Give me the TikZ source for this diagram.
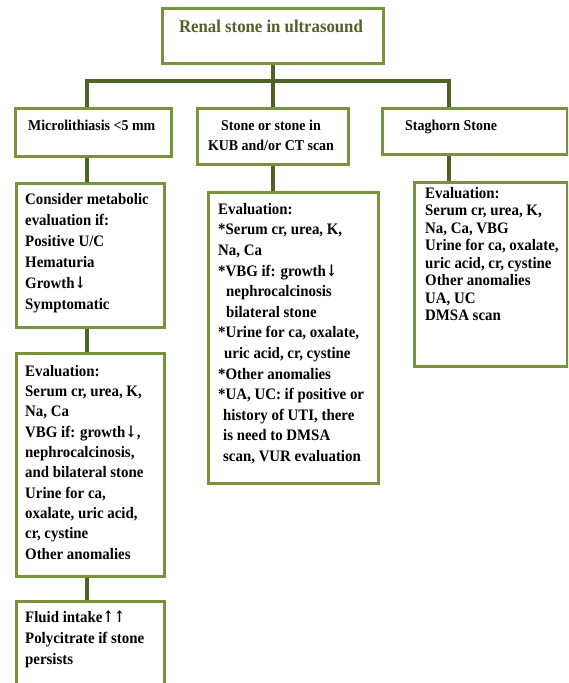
\documentclass[tikz,border=0pt]{standalone}
\usepackage{fontspec}
\setmainfont{Liberation Serif}[FakeStretch=0.93]
\newfontfamily\fleche{DejaVu Serif}
\definecolor{cadre}{HTML}{77933C}
\definecolor{trait}{HTML}{4F6228}
\newcommand{\txt}[2]{\fontsize{#1}{#2}\selectfont\bfseries}
\newcommand{\bas}{{\fleche\scalebox{0.85}[1]{↓}}}
\newcommand{\haut}{{\fleche\scalebox{0.85}[1]{↑}}}
\tikzset{
	cadre/.style={draw=cadre, line width=2.5pt, fill=white, inner sep=0pt, anchor=north west},
	trait/.style={draw=trait, line width=3.5pt},
	texte/.style={anchor=north west, align=left, inner sep=0pt}
}

\begin{document}
\begin{tikzpicture}[x=1pt,y=-1pt]
	\useasboundingbox (0,0) rectangle (568,683);
	\clip (0,0) rectangle (568,683);
	% colonnes
	\coordinate (c1) at (87,81);
	\coordinate (c2) at (273,81);
	\coordinate (c3) at (449,81);
	% boites
	\node[cadre, minimum width=221pt, minimum height=55pt] (top) at (161,7) {};
	\node[cadre, minimum width=156pt, minimum height=48pt] (micro) at (14,107) {};
	\node[cadre, minimum width=151pt, minimum height=56pt] (stone) at (196,107) {};
	\node[cadre, minimum width=185pt, minimum height=46pt] (stag) at (381,107) {};
	\node[cadre, minimum width=148pt, minimum height=144pt] (cons) at (15,182) {};
	\node[cadre, minimum width=148pt, minimum height=223pt] (evalL) at (15,352) {};
	\node[cadre, minimum width=148pt, minimum height=110pt] (fluid) at (15,600) {};
	\node[cadre, minimum width=170pt, minimum height=291pt] (evalM) at (207,191) {};
	\node[cadre, minimum width=153pt, minimum height=184pt] (evalR) at (413,181) {};
	% liens
	\draw[trait] (c2 |- top.south) -- (c2 |- stone.north);
	\draw[trait] (c1 |- micro.north) -- (c1) -- (c3) -- (c3 |- stag.north);
	\draw[trait] (c1 |- micro.south) -- (c1 |- cons.north);
	\draw[trait] (c1 |- cons.south) -- (c1 |- evalL.north);
	\draw[trait] (c1 |- evalL.south) -- (c1 |- fluid.north);
	\draw[trait] (c2 |- stone.south) -- (c2 |- evalM.north);
	\draw[trait] (c3 |- stag.south) -- (c3 |- evalR.north);
	% textes
	\node[anchor=north, inner sep=0pt, text=trait, font=\txt{18}{20}] (topT) at (271,20) {Renal stone in ultrasound};
	\node[texte, font=\txt{15}{20}] (microT) at (28,120) {Microlithiasis <5 mm};
	\node[texte, align=center, anchor=north, font=\txt{15}{20}] (stoneT) at (271,120) {Stone or stone in\\KUB and/or CT scan};
	\node[texte, font=\txt{15}{20}] (stagT) at (405,120) {Staghorn Stone};
	\node[texte, font=\txt{16}{21}] (consT) at (25,193) {Consider metabolic\\evaluation if:\\Positive U/C\\Hematuria\\Growth\bas\\Symptomatic};
	\node[texte, font=\txt{16}{20.3}] (evalLT) at (25,365) {Evaluation:\\Serum cr, urea, K,\\Na, Ca\\VBG if: growth\bas,\\nephrocalcinosis,\\and bilateral stone\\Urine for ca,\\oxalate, uric acid,\\cr, cystine\\Other anomalies};
	\node[texte, font=\txt{16}{21}] (fluidT) at (25,610) {Fluid intake\haut\haut\\Polycitrate if stone\\persists};
	\node[texte, font=\txt{16}{20.6}] (evalMT) at (218,203) {Evaluation:\\{*}Serum cr, urea, K,\\Na, Ca\\{*}VBG if: growth\bas\\\hspace*{8pt}nephrocalcinosis\\\hspace*{8pt}bilateral stone\\{*}Urine for ca, oxalate,\\\hspace*{6pt}uric acid, cr, cystine\\{*}Other anomalies\\{*}UA, UC: if positive or\\\hspace*{5pt}history of UTI, there\\\hspace*{5pt}is need to DMSA\\\hspace*{5pt}scan, VUR evaluation};
	\node[texte, font=\txt{16}{17.5}] (evalRT) at (425,187) {Evaluation:\\Serum cr, urea, K,\\Na, Ca, VBG\\Urine for ca, oxalate,\\uric acid, cr, cystine\\Other anomalies\\UA, UC\\DMSA scan};
\end{tikzpicture}
\end{document}
